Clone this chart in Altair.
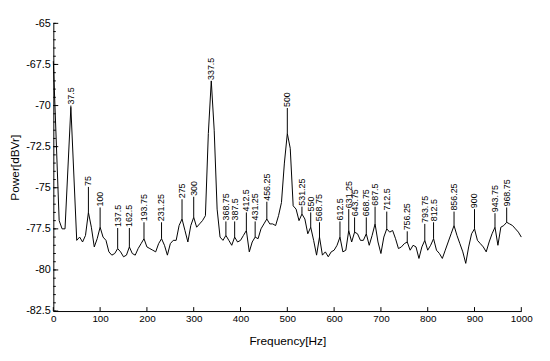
import altair as alt
import pandas as pd

# spectrum vertices (Hz, dBVr)
freq = [0, 12.5, 18.75, 25, 37.5, 50, 56.25, 62.5, 68.75, 75, 81.25, 87.5, 93.75, 100,
        106.25, 112.5, 118.75, 125, 131.25, 137.5, 143.75, 150, 156.25, 162.5, 168.75, 175,
        181.25, 187.5, 193.75, 200, 206.25, 212.5, 218.75, 225, 231.25, 237.5, 243.75, 250,
        256.25, 262.5, 268.75, 275, 281.25, 287.5, 293.75, 300, 306.25, 312.5, 318.75, 325,
        331.25, 337.5, 343.75, 350, 356.25, 362.5, 368.75, 375, 381.25, 387.5, 393.75, 400,
        406.25, 412.5, 418.75, 425, 431.25, 437.5, 443.75, 450, 456.25, 462.5, 468.75, 475,
        481.25, 487.5, 493.75, 500, 506.25, 512.5, 518.75, 525, 531.25, 537.5, 543.75, 550,
        556.25, 562.5, 568.75, 575, 581.25, 587.5, 593.75, 600, 606.25, 612.5, 618.75, 625,
        631.25, 637.5, 643.75, 650, 656.25, 662.5, 668.75, 675, 681.25, 687.5, 693.75, 700,
        706.25, 712.5, 718.75, 725, 731.25, 737.5, 743.75, 750, 756.25, 762.5, 768.75, 775,
        781.25, 787.5, 793.75, 800, 806.25, 812.5, 818.75, 825, 831.25, 837.5, 843.75, 850,
        856.25, 862.5, 868.75, 875, 881.25, 887.5, 893.75, 900, 906.25, 912.5, 918.75, 925,
        931.25, 937.5, 943.75, 950, 956.25, 962.5, 968.75, 975, 981.25, 987.5, 993.75, 1000]
power = [-67.3, -77.0, -77.5, -77.5, -70.1, -78.2, -78.0, -78.3, -77.9, -76.5, -77.4, -78.6, -78.1, -77.4,
         -78.0, -78.2, -78.9, -79.1, -79.0, -78.7, -78.9, -79.2, -79.1, -78.6, -79.0, -79.1,
         -78.7, -78.4, -78.1, -78.6, -78.7, -78.8, -78.9, -78.4, -78.1, -78.5, -79.1, -78.4,
         -78.2, -78.2, -77.3, -76.9, -77.6, -78.3, -77.3, -76.8, -77.4, -77.2, -77.0, -76.7,
         -71.7, -68.5, -71.5, -76.3, -78.0, -78.2, -77.9, -78.2, -78.5, -78.0, -78.3, -78.2,
         -77.9, -77.6, -78.9, -78.3, -78.0, -78.1, -77.5, -77.2, -76.9, -77.2, -77.2, -77.3,
         -76.7, -75.9, -73.5, -71.7, -72.6, -76.1, -76.3, -77.0, -76.6, -76.9, -77.8, -77.4,
         -78.2, -79.1, -78.0, -79.1, -78.9, -79.2, -78.9, -78.8, -78.5, -78.0, -78.9, -78.8,
         -77.6, -78.3, -77.7, -77.8, -78.2, -78.2, -77.8, -78.5, -77.9, -77.2, -78.3, -79.0,
         -78.0, -77.5, -77.7, -77.6, -78.1, -78.7, -78.6, -78.4, -78.3, -78.8, -78.5, -78.6,
         -79.3, -78.6, -78.2, -78.8, -78.5, -78.1, -78.8, -79.0, -79.3, -78.8, -78.3, -77.8,
         -77.3, -77.9, -78.4, -78.9, -79.6, -78.6, -77.8, -77.5, -78.2, -78.4, -78.6, -78.9,
         -78.3, -77.8, -77.4, -78.5, -77.4, -77.3, -77.1, -77.2, -77.3, -77.5, -77.7, -78.0]

# labelled peaks and the level (dBVr) where each label starts
peak_freq = [37.5, 75, 100, 137.5, 162.5, 193.75, 231.25, 275, 300, 337.5, 368.75, 387.5,
             412.5, 431.25, 456.25, 500, 531.25, 550, 568.75, 612.5, 631.25, 643.75, 668.75,
             687.5, 712.5, 756.25, 793.75, 812.5, 856.25, 900, 943.75, 968.75]
label_top = [-70.0, -74.95, -76.2, -77.45, -77.45, -77.1, -77.1, -75.7, -75.55, -68.5, -77.05, -77.05,
             -76.5, -77.05, -75.85, -70.15, -76.15, -76.5, -77.1, -77.05, -76.3, -76.8, -76.8,
             -76.15, -76.45, -77.65, -77.2, -77.1, -76.45, -76.3, -76.55, -76.2]

x_ticks = [0, 100, 200, 300, 400, 500, 600, 700, 800, 900, 1000]
y_ticks = [-82.5, -80, -77.5, -75, -72.5, -70, -67.5, -65]
y_minor = [-82.5 + 0.5 * i for i in range(36)]

FONT = "Liberation Sans"
W, H = 475, 292

df = pd.DataFrame({"f": freq, "p": power})
lookup = dict(zip(freq, power))
peaks = pd.DataFrame({
    "f": peak_freq,
    "p": [lookup[f] for f in peak_freq],
    "top": label_top,
    "label": [f"{f:g}" for f in peak_freq],
})

xscale = alt.Scale(domain=[0, 1000], nice=False, zero=False)
yscale = alt.Scale(domain=[-82.5, -65], nice=False, zero=False)

xaxis = alt.Axis(title="Frequency[Hz]", values=x_ticks, tickSize=0, labelPadding=3,
                 labelExpr="'' + datum.value",
                 labelFont=FONT, labelFontSize=10, labelColor="#000", domainColor="#000",
                 titleFont=FONT, titleFontSize=12, titleFontWeight="normal", titleColor="#000",
                 titleY=30, titleBaseline="middle", grid=False, labelFlush=False)
yaxis = alt.Axis(title="Power[dBVr]", values=y_ticks, tickSize=0, labelPadding=3,
                 labelExpr="'' + datum.value",
                 labelFont=FONT, labelFontSize=11, labelColor="#000", domainColor="#000",
                 titleFont=FONT, titleFontSize=12, titleFontWeight="normal", titleColor="#000",
                 titleX=-39, titleY=H / 2, titleAngle=270, titleAlign="center",
                 titleBaseline="middle", grid=False, labelFlush=False)

line = alt.Chart(df).mark_line(color="#000", strokeWidth=1).encode(
    x=alt.X("f:Q", scale=xscale, axis=xaxis),
    y=alt.Y("p:Q", scale=yscale, axis=yaxis),
)

stems = alt.Chart(peaks).mark_rule(color="#000", strokeWidth=1).encode(
    x=alt.X("f:Q", scale=xscale),
    y=alt.Y("p:Q", scale=yscale),
    y2="top:Q",
)

labels = alt.Chart(peaks).mark_text(angle=270, align="left", baseline="middle", dx=1,
                                    font=FONT, fontSize=9, color="#000").encode(
    x=alt.X("f:Q", scale=xscale),
    y=alt.Y("top:Q", scale=yscale),
    text="label:N",
)

ymaj = alt.Chart(pd.DataFrame({"v": y_ticks})).mark_rule(color="#000").encode(
    y=alt.Y("v:Q", scale=yscale), x=alt.value(0), x2=alt.value(5))
ymin = alt.Chart(pd.DataFrame({"v": y_minor})).mark_rule(color="#000").encode(
    y=alt.Y("v:Q", scale=yscale), x=alt.value(0), x2=alt.value(2.5))
xmaj = alt.Chart(pd.DataFrame({"v": x_ticks})).mark_rule(color="#000").encode(
    x=alt.X("v:Q", scale=xscale), y=alt.value(H), y2=alt.value(H - 4))

chart = alt.layer(line, stems, labels, ymaj, ymin, xmaj).properties(
    width=W, height=H,
    autosize=alt.AutoSizeParams(type="none"),
    padding={"left": 46, "top": 13, "right": 21, "bottom": 40},
    background="#ffffff",
).configure_view(stroke=None)

chart.save("out.html", embed_options={"renderer": "svg", "actions": False})
